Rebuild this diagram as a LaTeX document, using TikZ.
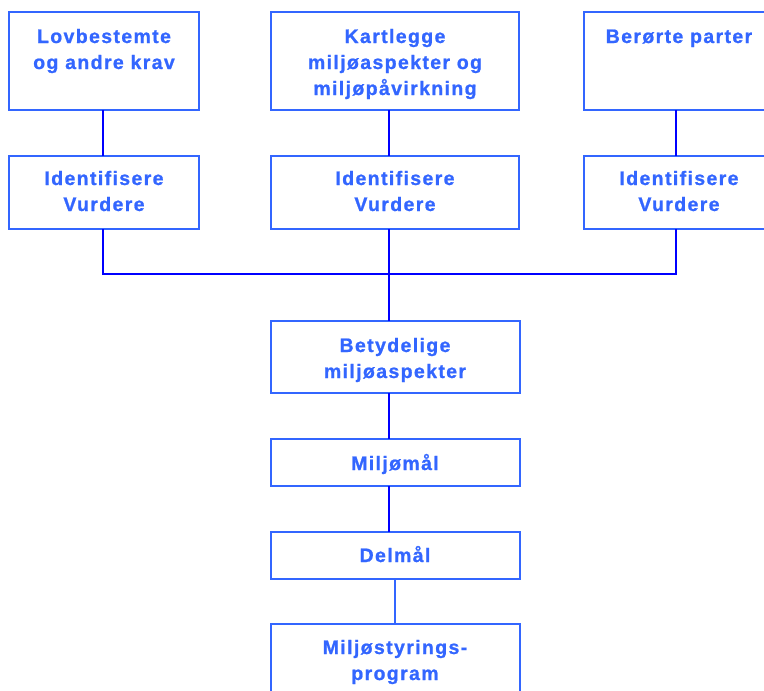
\documentclass[tikz,border=0pt]{standalone}
\usepackage{fontspec}
\newfontfamily\lblfont{Liberation Sans Bold}[LetterSpace=7,FakeBold=1]
\definecolor{boxblue}{RGB}{51,102,255}
\definecolor{lineblue}{RGB}{0,0,255}
\begin{document}
\begin{tikzpicture}[x=1pt,y=-1pt,
  box/.style={draw=boxblue,line width=2pt,inner sep=0pt,outer sep=0pt,anchor=north west},
  lbl/.style={text=boxblue,font=\lblfont\fontsize{19.5}{26}\selectfont,align=center,anchor=base,inner sep=0pt},
  conn/.style={draw=lineblue,line width=2pt},
  conn2/.style={draw=boxblue,line width=2pt}]
\useasboundingbox (0,0) rectangle (764,691);
% boxes
\node[box,minimum width=190pt,minimum height=98pt] (b1) at (9,12) {};
\node[box,minimum width=248pt,minimum height=98pt] (b2) at (271,12) {};
\node[box,minimum width=190pt,minimum height=98pt] (b3) at (584,12) {};
\node[box,minimum width=190pt,minimum height=73pt] (i1) at (9,156) {};
\node[box,minimum width=248pt,minimum height=73pt] (i2) at (271,156) {};
\node[box,minimum width=190pt,minimum height=73pt] (i3) at (584,156) {};
\node[box,minimum width=249pt,minimum height=72pt] (bet) at (271,321) {};
\node[box,minimum width=249pt,minimum height=47pt] (mm) at (271,439) {};
\node[box,minimum width=249pt,minimum height=47pt] (dm) at (271,532) {};
\node[box,minimum width=249pt,minimum height=80pt] (ms) at (271,624) {};
% labels (anchored at the baseline of the last line)
\node[lbl] (t1) at (104,69) {Lovbestemte\\og andre krav};
\node[lbl] (t2) at (395,95) {Kartlegge\\miljøaspekter og\\miljøpåvirkning};
\node[lbl] (t3) at (679,43) {Berørte parter};
\node[lbl] (u1) at (104,211) {Identifisere\\Vurdere};
\node[lbl] (u2) at (395,211) {Identifisere\\Vurdere};
\node[lbl] (u3) at (679,211) {Identifisere\\Vurdere};
\node[lbl] (tb) at (395,378) {Betydelige\\miljøaspekter};
\node[lbl] (tm) at (395,470) {Miljømål};
\node[lbl] (td) at (395,562) {Delmål};
\node[lbl] (ts) at (395,680) {Miljøstyrings-\\program};
% connector coordinates
\coordinate (c1) at (102.7,274.3);
\coordinate (c2) at (388.7,274.3);
\coordinate (c3) at (675.7,274.3);
\coordinate (c4) at (395,600);
% connectors
\draw[conn] (b1.south -| c1) -- (i1.north -| c1);
\draw[conn] (b2.south -| c2) -- (i2.north -| c2);
\draw[conn] (b3.south -| c3) -- (i3.north -| c3);
\draw[conn] (i1.south -| c1) -- (c1) -- (c3) -- (i3.south -| c3);
\draw[conn] (i2.south -| c2) -- (bet.north -| c2);
\draw[conn] (bet.south -| c2) -- (mm.north -| c2);
\draw[conn] (mm.south -| c2) -- (dm.north -| c2);
\draw[conn2] (dm.south -| c4) -- (ms.north -| c4);
\end{tikzpicture}
\end{document}
